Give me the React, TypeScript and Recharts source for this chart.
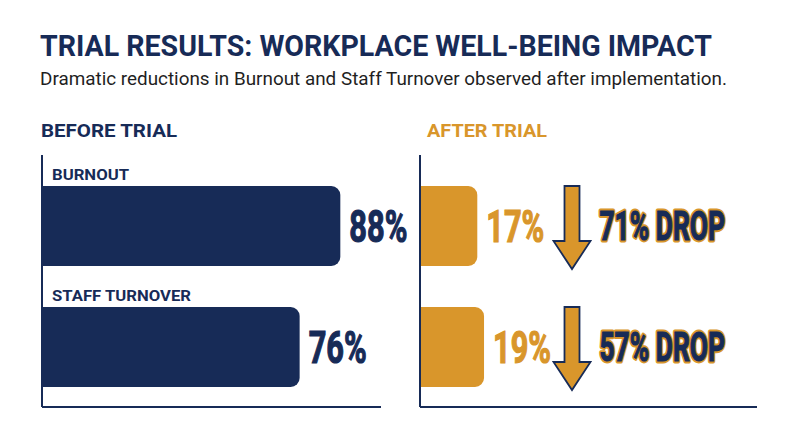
import React from 'react';
import { BarChart, Bar, XAxis, YAxis, LabelList } from 'recharts';

const categories = ['BURNOUT', 'STAFF TURNOVER'];
const beforeValues = [88, 76];
const afterValues = [17, 19];
const dropValues = [71, 57];

const NAVY = '#172b57';
const ORANGE = '#d9962b';

const beforeData = categories.map((c, i) => ({ category: c, value: beforeValues[i] }));
const afterData = categories.map((c, i) => ({ category: c, value: afterValues[i], drop: dropValues[i] }));

const box = (p: any) => {
  const vb = p.viewBox && p.viewBox.width !== undefined ? p.viewBox : p;
  return { x: Number(vb.x), y: Number(vb.y), width: Number(vb.width), height: Number(vb.height) };
};

const CategoryLabel = (p: any) => {
  const { x, y } = box(p);
  const w = String(p.value).length > 8 ? 139 : 77;
  return (
    <text x={x + 10} y={y - 6} fontFamily="Roboto" fontWeight={700} fontSize={15} fill={NAVY}
      textLength={w} lengthAdjust="spacingAndGlyphs">{p.value}</text>
  );
};

const makeValueLabel = (color: string) => (p: any) => {
  const { x, y, width, height } = box(p);
  const tx = x + width + 9;
  const ty = y + height / 2 + 15.5;
  return (
    <text transform={`translate(${tx},${ty}) scale(0.7,1)`} fontFamily="Roboto" fontWeight={700}
      fontSize={44} fill={color} stroke={color} strokeWidth={1.2}>{`${p.value}%`}</text>
  );
};

const DropLabel = (p: any) => {
  const { x, y, height } = box(p);
  const cx = x + 152;
  const top = y;
  const tip = y + height + 3;
  const headTop = tip - 28;
  const sw = 7.5;
  const hw = 18.5;
  const pts = [
    [cx - sw, top], [cx + sw, top], [cx + sw, headTop], [cx + hw, headTop],
    [cx, tip], [cx - hw, headTop], [cx - sw, headTop],
  ].map((q) => q.join(',')).join(' ');
  const tx = x + 305;
  const ty = y + height / 2 + 14;
  const label = `${p.value}% DROP`;
  return (
    <g>
      <polygon points={pts} fill={ORANGE} stroke={NAVY} strokeWidth={1.8} strokeLinejoin="miter" />
      <text transform={`translate(${tx},${ty}) scale(0.66,1)`} textAnchor="end" fontFamily="Roboto"
        fontWeight={700} fontSize={40} fill={ORANGE} stroke={ORANGE} strokeWidth={5}
        strokeLinejoin="round">{label}</text>
      <text transform={`translate(${tx},${ty}) scale(0.66,1)`} textAnchor="end" fontFamily="Roboto"
        fontWeight={700} fontSize={40} fill={NAVY} stroke={NAVY} strokeWidth={1.2}>{label}</text>
    </g>
  );
};

const axisLine = { stroke: NAVY, strokeWidth: 2 };

export default function App() {
  return (
    <div style={{ position: 'absolute', left: 0, top: 0, width: 800, height: 447, background: '#ffffff', overflow: 'hidden' }}>
      <svg width={800} height={447} style={{ position: 'absolute', left: 0, top: 0 }}>
        <text x={40} y={56} fontFamily="Roboto" fontWeight={700} fontSize={30} fill={NAVY}
          textLength={672} lengthAdjust="spacingAndGlyphs">TRIAL RESULTS: WORKPLACE WELL-BEING IMPACT</text>
        <text x={40} y={85} fontFamily="Roboto" fontWeight={400} fontSize={19} fill="#1f1f1f"
          textLength={687} lengthAdjust="spacingAndGlyphs">Dramatic reductions in Burnout and Staff Turnover observed after implementation.</text>
        <text x={41} y={137} fontFamily="Roboto" fontWeight={700} fontSize={19} fill={NAVY}
          textLength={136} lengthAdjust="spacingAndGlyphs">BEFORE TRIAL</text>
        <text x={427} y={137} fontFamily="Roboto" fontWeight={700} fontSize={19} fill={ORANGE}
          textLength={120} lengthAdjust="spacingAndGlyphs">AFTER TRIAL</text>
      </svg>
      <div style={{ position: 'absolute', left: 0, top: 0 }}>
        <BarChart width={800} height={447} data={beforeData} layout="vertical"
          margin={{ top: 155, right: 419, bottom: 39, left: 41 }} style={{ overflow: 'visible' }}>
          <XAxis type="number" domain={[0, 100]} height={1} tick={false} tickLine={false} axisLine={axisLine} />
          <YAxis type="category" dataKey="category" width={1} tick={false} tickLine={false}
            axisLine={axisLine} padding={{ top: 10, bottom: 0 }} />
          <Bar dataKey="value" fill={NAVY} barSize={80} radius={[0, 9, 9, 0]} isAnimationActive={false}>
            <LabelList dataKey="category" content={CategoryLabel} />
            <LabelList dataKey="value" content={makeValueLabel(NAVY)} />
          </Bar>
        </BarChart>
      </div>
      <div style={{ position: 'absolute', left: 0, top: 0 }}>
        <BarChart width={800} height={447} data={afterData} layout="vertical"
          margin={{ top: 155, right: 43, bottom: 39, left: 419 }} style={{ overflow: 'visible' }}>
          <XAxis type="number" domain={[0, 100]} height={1} tick={false} tickLine={false} axisLine={axisLine} />
          <YAxis type="category" dataKey="category" width={1} tick={false} tickLine={false}
            axisLine={axisLine} padding={{ top: 10, bottom: 0 }} />
          <Bar dataKey="value" fill={ORANGE} barSize={80} radius={[0, 9, 9, 0]} isAnimationActive={false}>
            <LabelList dataKey="value" content={makeValueLabel(ORANGE)} />
            <LabelList dataKey="drop" content={DropLabel} />
          </Bar>
        </BarChart>
      </div>
    </div>
  );
}
